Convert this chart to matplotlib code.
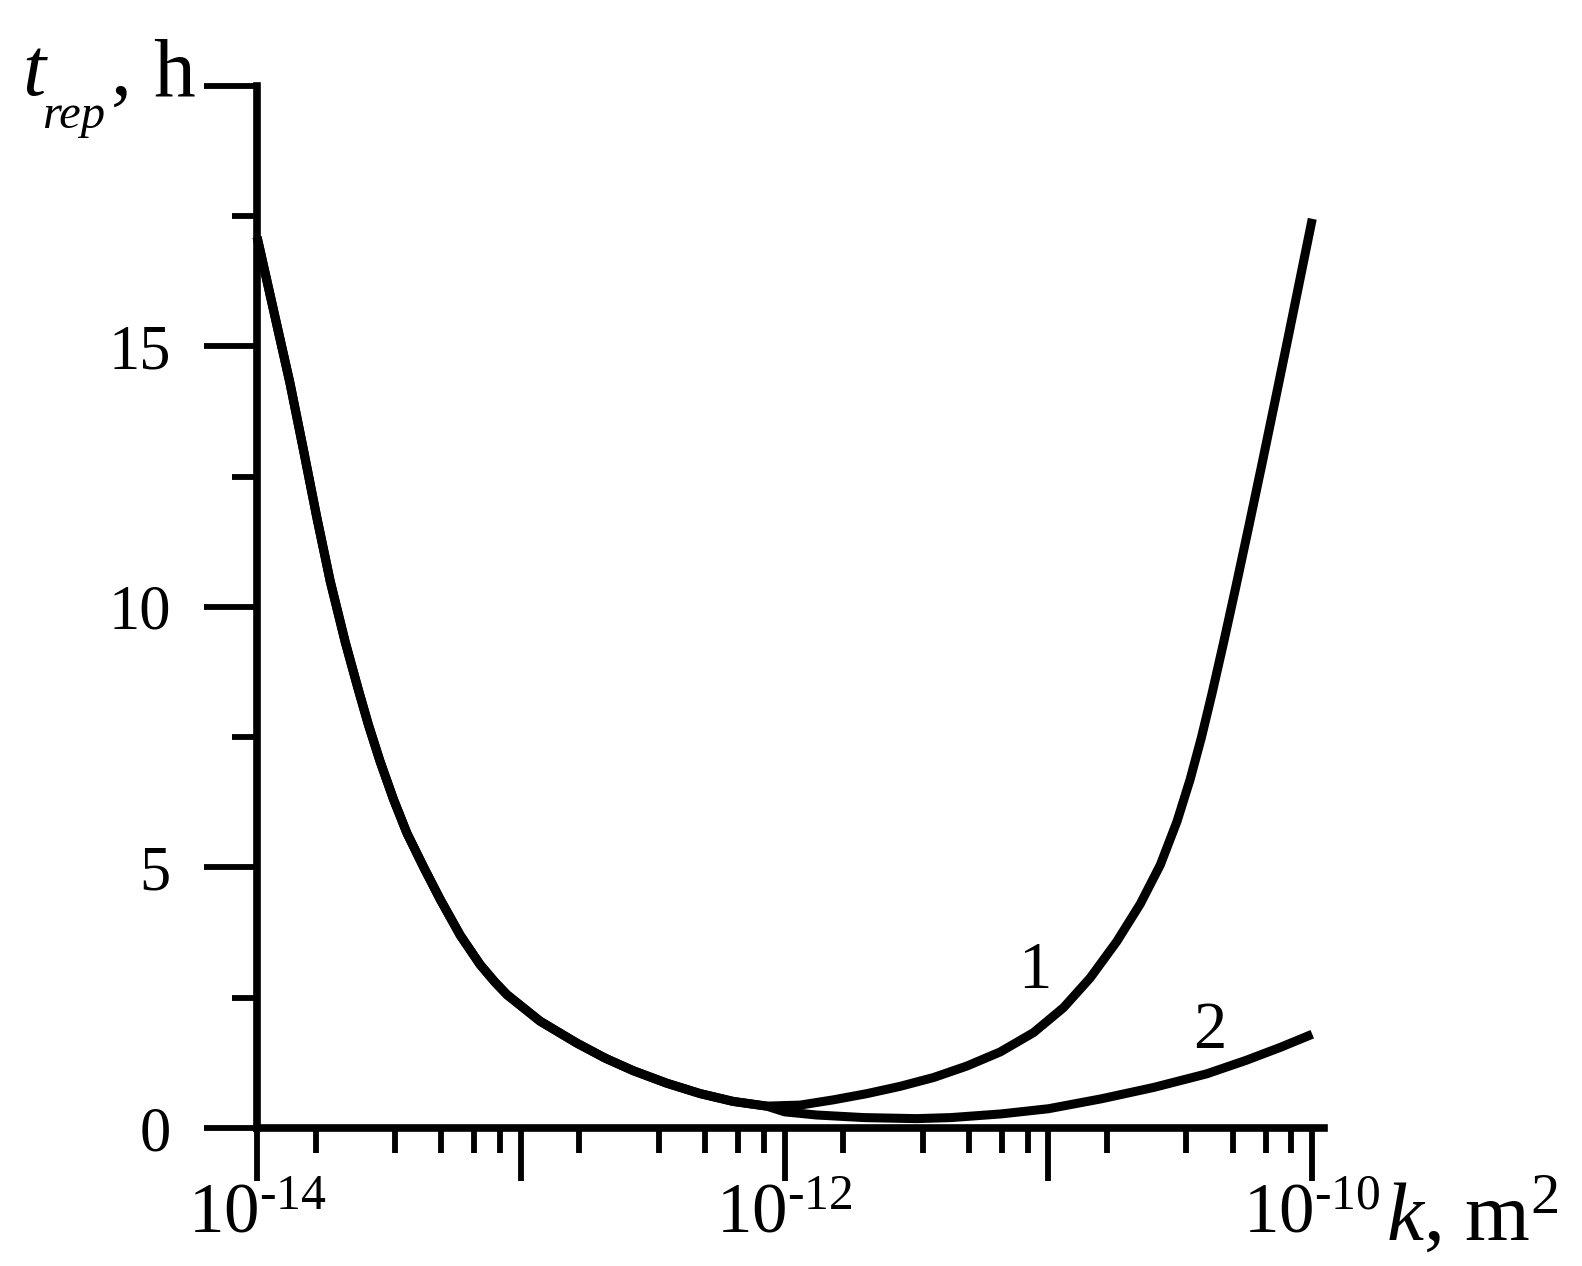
# %% Packages

import numpy as np
import matplotlib.pyplot as plt
from matplotlib.ticker import FixedLocator, NullFormatter

plt.rcParams['font.family'] = 'Liberation Serif'
plt.rcParams['mathtext.fontset'] = 'custom'
plt.rcParams['mathtext.rm'] = 'Liberation Serif'
plt.rcParams['mathtext.it'] = 'Liberation Serif:italic'

# %% Data (log10 k in m^2, t_rep in h)

# left branch, common to both curves
logk_left = [-14.0, -13.932, -13.875, -13.824, -13.774, -13.723, -13.666,
             -13.616, -13.578, -13.534, -13.483, -13.432, -13.369, -13.306,
             -13.230, -13.155, -13.100, -13.053, -12.927, -12.788, -12.680,
             -12.574, -12.447, -12.320, -12.195, -12.068]
t_left = [17.1, 15.57, 14.29, 13.01, 11.73, 10.50, 9.33,
          8.41, 7.74, 7.04, 6.31, 5.66, 5.01, 4.39,
          3.70, 3.14, 2.81, 2.56, 2.05, 1.63, 1.34,
          1.10, 0.86, 0.66, 0.51, 0.42]

# curve 1, right branch
logk_1r = [-11.941, -11.816, -11.688, -11.562, -11.435, -11.309, -11.183,
           -11.057, -10.943, -10.842, -10.741, -10.652, -10.576, -10.513,
           -10.463, -10.420, -10.380, -10.336, -10.290, -10.240, -10.190,
           -10.140, -10.090, -10.045, -10.0]
t_1r = [0.44, 0.54, 0.66, 0.80, 0.97, 1.19, 1.46,
        1.83, 2.31, 2.88, 3.58, 4.30, 5.05, 5.88,
        6.69, 7.50, 8.34, 9.32, 10.38, 11.56, 12.76,
        13.98, 15.21, 16.33, 17.45]

# curve 2, right branch
logk_2r = [-12.0, -11.88, -11.70, -11.50, -11.37, -11.18, -11.0,
           -10.80, -10.60, -10.40, -10.25, -10.12, -10.0]
t_2r = [0.31, 0.25, 0.20, 0.18, 0.20, 0.27, 0.37,
        0.56, 0.78, 1.04, 1.30, 1.55, 1.80]

x_major_exp = [-14, -13, -12, -11, -10]
x_label_exp = [-14, -12, -10]
y_major = [0, 5, 10, 15, 20]
y_labels = ['0', '5', '10', '15', '']
y_minor = [2.5, 7.5, 12.5, 17.5]

# %% Plot

fig = plt.figure(figsize=(15.82, 12.66), dpi=100)
ax = fig.add_axes([0.1625, 0.109, 0.6745, 0.8231])

k_1 = 10.0**np.array(logk_left + logk_1r)
k_2 = 10.0**np.array(logk_left + logk_2r)
ax.plot(k_1, t_left + t_1r, color='black', lw=6.5, solid_capstyle='butt',
        solid_joinstyle='round', clip_on=False)
ax.plot(k_2, t_left + t_2r, color='black', lw=6.5, solid_capstyle='butt',
        solid_joinstyle='round', clip_on=False)

ax.set_xscale('log')
ax.set_xlim(1e-14, 10**-9.955)
ax.set_ylim(0, 20)

# x ticks: decades, minor ticks every 10/6 of a decade
hyph = '\u2010'
x_major = [10.0**e for e in x_major_exp]
x_minor = [10.0**e * 10 / 6 * n for e in x_major_exp[:-1] for n in range(1, 6)]
x_ticklabels = []
for e in x_major_exp:
    if e in x_label_exp:
        x_ticklabels.append('$\\mathregular{10^{' + hyph + str(-e) + '}}$')
    else:
        x_ticklabels.append('')
ax.xaxis.set_major_locator(FixedLocator(x_major))
ax.xaxis.set_minor_locator(FixedLocator(x_minor))
ax.xaxis.set_minor_formatter(NullFormatter())
ax.set_xticklabels(x_ticklabels)

ax.yaxis.set_major_locator(FixedLocator(y_major))
ax.yaxis.set_minor_locator(FixedLocator(y_minor))
ax.set_yticklabels(y_labels)

for s in ['top', 'right']:
    ax.spines[s].set_visible(False)
for s in ['left', 'bottom']:
    ax.spines[s].set_linewidth(5.5)
    ax.spines[s].set_capstyle('projecting')

ax.tick_params(which='major', direction='out', length=38, width=4.2, color='black')
ax.tick_params(which='minor', direction='out', length=18, width=4.2, color='black')
ax.tick_params(axis='x', which='major', labelsize=51, pad=1)
ax.tick_params(axis='y', which='major', labelsize=45, pad=24)

# curve numbers
ax.text(10**-11.05, 3.0, '1', fontsize=48, ha='center', va='center')
ax.text(10**-10.39, 1.85, '2', fontsize=48, ha='center', va='center')

# y title: t_rep, h
fig.text(22 / 1582, 1 - 95 / 1266, 't', fontsize=60, style='italic',
         ha='left', va='baseline')
fig.text(42 / 1582, 1 - 128 / 1266, 'rep', fontsize=35, style='italic',
         ha='left', va='baseline')
fig.text(111 / 1582, 1 - 95 / 1266, ',', fontsize=60, ha='left', va='baseline')
fig.text(153 / 1582, 1 - 95 / 1266, 'h', fontsize=60, ha='left', va='baseline')

# x title: k, m2
fig.text(1386 / 1582, 1 - 1240 / 1266, r'$\mathit{k}$, m$^{\mathregular{2}}$',
         fontsize=60, ha='left', va='baseline')

fig.savefig('out.png', dpi=100, facecolor='white')
